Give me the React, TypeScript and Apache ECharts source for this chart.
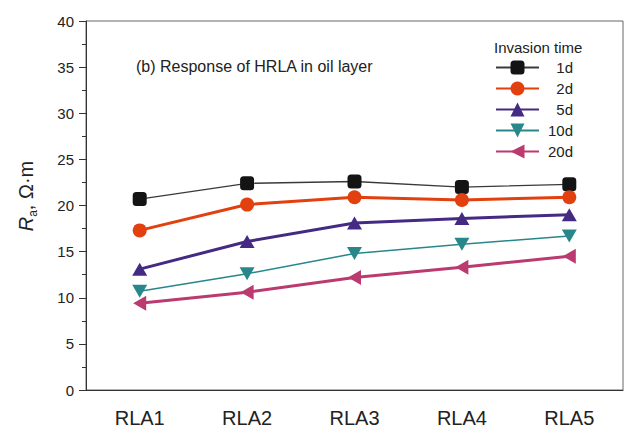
import React, { useEffect, useRef } from "react";
import * as echarts from "echarts";

const categories = ["RLA1", "RLA2", "RLA3", "RLA4", "RLA5"];
const seriesNames = ["1d", "2d", "5d", "10d", "20d"];
const d1 = [20.7, 22.4, 22.6, 22.0, 22.3];
const d2 = [17.3, 20.1, 20.9, 20.6, 20.9];
const d5 = [13.1, 16.1, 18.1, 18.6, 19.0];
const d10 = [10.7, 12.6, 14.8, 15.8, 16.7];
const d20 = [9.4, 10.6, 12.2, 13.3, 14.5];

const FONT = "'Liberation Sans', Arial, sans-serif";

export default function App() {
  const ref = useRef<HTMLDivElement>(null);
  useEffect(() => {
    if (!ref.current) return;
    const chart = echarts.init(ref.current, null, { renderer: "svg" });
    const mk = (
      name: string,
      data: number[],
      color: string,
      lineColor: string,
      width: number,
      symbol: string,
      rotate: number,
      size: number | number[]
    ) => ({
      name,
      type: "line",
      data,
      symbol,
      symbolRotate: rotate,
      symbolSize: size,
      showSymbol: true,
      itemStyle: { color, borderWidth: 0 },
      lineStyle: { color: lineColor, width },
      z: 2,
    });
    chart.setOption({
      animation: false,
      textStyle: { fontFamily: FONT },
      title: [
        {
          text: "(b) Response of HRLA in oil layer",
          left: 131,
          top: 53,
          textStyle: { fontSize: 16, fontWeight: "normal", color: "#222", fontFamily: FONT },
        },
        {
          text: "Invasion time",
          left: 489,
          top: 35,
          textStyle: { fontSize: 15, fontWeight: "normal", color: "#222", fontFamily: FONT },
        },
      ],
      grid: {
        left: 86,
        right: 1,
        top: 21,
        bottom: 42,
        show: true,
        borderColor: "#666",
        borderWidth: 1,
        containLabel: false,
      },
      legend: {
        orient: "vertical",
        left: 490,
        top: 55,
        itemWidth: 43,
        itemHeight: 17.5,
        itemGap: 6,
        data: seriesNames,
        formatter: "{a|{name}}",
        textStyle: {
          fontSize: 15,
          color: "#222",
          fontFamily: FONT,
          rich: { a: { width: 29, align: "right", fontSize: 15, fontFamily: FONT, lineHeight: 17.5 } },
        },
      },
      xAxis: {
        type: "category",
        data: categories,
        boundaryGap: true,
        axisLine: { lineStyle: { color: "#333", width: 1 } },
        axisTick: { alignWithLabel: true, length: 6, lineStyle: { color: "#333" } },
        axisLabel: { fontSize: 20, color: "#222", margin: 18, fontFamily: FONT },
        splitLine: { show: false },
      },
      yAxis: {
        type: "value",
        min: 0,
        max: 40,
        interval: 5,
        axisLine: { show: true, lineStyle: { color: "#333", width: 1 } },
        axisTick: { show: true, length: 7, lineStyle: { color: "#333" } },
        minorTick: { show: true, splitNumber: 2, length: 4, lineStyle: { color: "#333" } },
        axisLabel: { fontSize: 15, color: "#222", margin: 12, fontFamily: FONT },
        splitLine: { show: false },
      },
      graphic: [
        {
          type: "text",
          x: 25,
          y: 196,
          rotation: Math.PI / 2,
          style: {
            text: "{i|R}{s|a}{n|, Ω·m}",
            align: "center",
            verticalAlign: "middle",
            rich: {
              i: { fontSize: 20, fontStyle: "italic", fontFamily: FONT, fill: "#222", lineHeight: 22, verticalAlign: "bottom" },
              s: { fontSize: 12, fontFamily: FONT, fill: "#222", lineHeight: 12, verticalAlign: "bottom", padding: [0, 0, -3, 0] },
              n: { fontSize: 20, fontFamily: FONT, fill: "#222", lineHeight: 22, verticalAlign: "bottom" },
            },
          },
        },
      ],
      series: [
        mk("1d", d1, "#141414", "#3a3a3a", 1.3, "roundRect", 0, 14),
        mk("2d", d2, "#e2400f", "#e2400f", 3, "circle", 0, 14),
        mk("5d", d5, "#452a84", "#452a84", 3, "triangle", 0, [15, 13]),
        mk("10d", d10, "#28878a", "#28878a", 1.5, "triangle", 180, [15, 13]),
        mk("20d", d20, "#bb3a6f", "#bb3a6f", 3, "triangle", 90, [15, 13]),
      ],
    });
    return () => chart.dispose();
  }, []);
  return (
    <div
      ref={ref}
      style={{ position: "fixed", left: 0, top: 0, width: 624, height: 432, background: "#fff" }}
    />
  );
}
